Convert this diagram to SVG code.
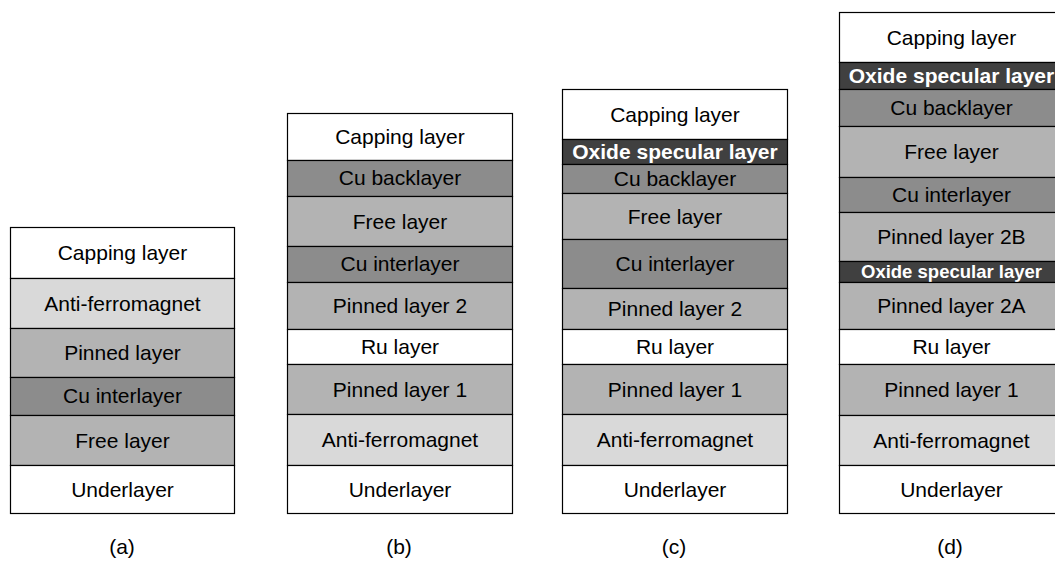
<svg xmlns="http://www.w3.org/2000/svg" width="1055" height="561" viewBox="0 0 1055 561">
<style>
.l{stroke:#000;stroke-width:1.2}
.w{fill:#ffffff}.af{fill:#d9d9d9}.g{fill:#b3b3b3}.cu{fill:#8c8c8c}.ox{fill:#404040}
text{font-family:"Liberation Sans",Arial,sans-serif;font-size:21px;fill:#000;text-anchor:middle}
.ot{fill:#fff;font-weight:bold}
.sm{font-size:18.5px}
</style>
<rect width="1055" height="561" fill="#fff"/>
<g id="stack-a">
<g id="a-capping"><rect class="l w" x="10.5" y="227.5" width="224" height="51"/><text x="122.5" y="260">Capping layer</text></g>
<g id="a-afm"><rect class="l af" x="10.5" y="278.5" width="224" height="50"/><text x="122.5" y="310.5">Anti-ferromagnet</text></g>
<g id="a-pinned"><rect class="l g" x="10.5" y="328.5" width="224" height="49"/><text x="122.5" y="360">Pinned layer</text></g>
<g id="a-cu"><rect class="l cu" x="10.5" y="377.5" width="224" height="38"/><text x="122.5" y="403">Cu interlayer</text></g>
<g id="a-free"><rect class="l g" x="10.5" y="415.5" width="224" height="50"/><text x="122.5" y="447.5">Free layer</text></g>
<g id="a-under"><rect class="l w" x="10.5" y="465.5" width="224" height="48"/><text x="122.5" y="496.5">Underlayer</text></g>
<text id="label-a" x="122" y="554">(a)</text>
</g>
<g id="stack-b">
<g id="b-capping"><rect class="l w" x="287.5" y="113.5" width="225" height="47"/><text x="400" y="144">Capping layer</text></g>
<g id="b-cuback"><rect class="l cu" x="287.5" y="160.5" width="225" height="36"/><text x="400" y="185">Cu backlayer</text></g>
<g id="b-free"><rect class="l g" x="287.5" y="196.5" width="225" height="50"/><text x="400" y="228.5">Free layer</text></g>
<g id="b-cu"><rect class="l cu" x="287.5" y="246.5" width="225" height="36"/><text x="400" y="271">Cu interlayer</text></g>
<g id="b-pinned2"><rect class="l g" x="287.5" y="282.5" width="225" height="47"/><text x="400" y="313">Pinned layer 2</text></g>
<g id="b-ru"><rect class="l w" x="287.5" y="329.5" width="225" height="35"/><text x="400" y="353.5">Ru layer</text></g>
<g id="b-pinned1"><rect class="l g" x="287.5" y="364.5" width="225" height="50"/><text x="400" y="396.5">Pinned layer 1</text></g>
<g id="b-afm"><rect class="l af" x="287.5" y="414.5" width="225" height="51"/><text x="400" y="447">Anti-ferromagnet</text></g>
<g id="b-under"><rect class="l w" x="287.5" y="465.5" width="225" height="48"/><text x="400" y="496.5">Underlayer</text></g>
<text id="label-b" x="399" y="554">(b)</text>
</g>
<g id="stack-c">
<g id="c-capping"><rect class="l w" x="562.5" y="89.5" width="225" height="50"/><text x="675" y="121.5">Capping layer</text></g>
<g id="c-oxide"><rect class="l ox" x="562.5" y="139.5" width="225" height="25"/><text class="ot" x="675" y="159">Oxide specular layer</text></g>
<g id="c-cuback"><rect class="l cu" x="562.5" y="164.5" width="225" height="29"/><text x="675" y="186">Cu backlayer</text></g>
<g id="c-free"><rect class="l g" x="562.5" y="193.5" width="225" height="46"/><text x="675" y="223.5">Free layer</text></g>
<g id="c-cu"><rect class="l cu" x="562.5" y="239.5" width="225" height="49"/><text x="675" y="271">Cu interlayer</text></g>
<g id="c-pinned2"><rect class="l g" x="562.5" y="288.5" width="225" height="41"/><text x="675" y="316">Pinned layer 2</text></g>
<g id="c-ru"><rect class="l w" x="562.5" y="329.5" width="225" height="35"/><text x="675" y="354">Ru layer</text></g>
<g id="c-pinned1"><rect class="l g" x="562.5" y="364.5" width="225" height="50"/><text x="675" y="396.5">Pinned layer 1</text></g>
<g id="c-afm"><rect class="l af" x="562.5" y="414.5" width="225" height="51"/><text x="675" y="447">Anti-ferromagnet</text></g>
<g id="c-under"><rect class="l w" x="562.5" y="465.5" width="225" height="48"/><text x="675" y="496.5">Underlayer</text></g>
<text id="label-c" x="674" y="554">(c)</text>
</g>
<g id="stack-d">
<g id="d-capping"><rect class="l w" x="839.5" y="12.5" width="225" height="50"/><text x="951.5" y="44.5">Capping layer</text></g>
<g id="d-oxide1"><rect class="l ox" x="839.5" y="62.5" width="225" height="27"/><text class="ot" x="951.5" y="83">Oxide specular layer</text></g>
<g id="d-cuback"><rect class="l cu" x="839.5" y="89.5" width="225" height="37"/><text x="951.5" y="115">Cu backlayer</text></g>
<g id="d-free"><rect class="l g" x="839.5" y="126.5" width="225" height="51"/><text x="951.5" y="159">Free layer</text></g>
<g id="d-cu"><rect class="l cu" x="839.5" y="177.5" width="225" height="35"/><text x="951.5" y="202">Cu interlayer</text></g>
<g id="d-pinned2b"><rect class="l g" x="839.5" y="212.5" width="225" height="49"/><text x="951.5" y="244">Pinned layer 2B</text></g>
<g id="d-oxide2"><rect class="l ox" x="839.5" y="261.5" width="225" height="21"/><text class="ot sm" x="951.5" y="278">Oxide specular layer</text></g>
<g id="d-pinned2a"><rect class="l g" x="839.5" y="282.5" width="225" height="47"/><text x="951.5" y="313">Pinned layer 2A</text></g>
<g id="d-ru"><rect class="l w" x="839.5" y="329.5" width="225" height="35"/><text x="951.5" y="354">Ru layer</text></g>
<g id="d-pinned1"><rect class="l g" x="839.5" y="364.5" width="225" height="51"/><text x="951.5" y="397">Pinned layer 1</text></g>
<g id="d-afm"><rect class="l af" x="839.5" y="415.5" width="225" height="50"/><text x="951.5" y="447.5">Anti-ferromagnet</text></g>
<g id="d-under"><rect class="l w" x="839.5" y="465.5" width="225" height="48"/><text x="951.5" y="496.5">Underlayer</text></g>
<text id="label-d" x="950" y="554">(d)</text>
</g>
<g id="connectors"/>
</svg>
